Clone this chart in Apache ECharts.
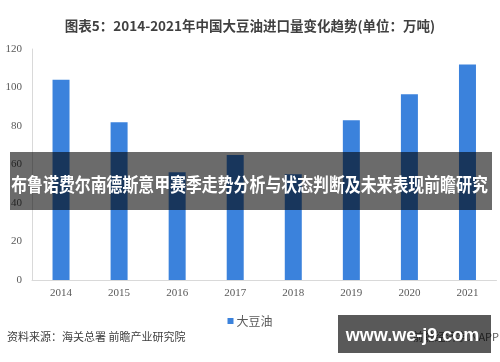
<!DOCTYPE html>
<html>
<head>
<meta charset="utf-8">
<script src="https://cdn.jsdelivr.net/npm/echarts@6/dist/echarts.min.js"></script>
<style>html,body{margin:0;padding:0;background:#fff}#c{width:500px;height:362px}</style>
</head>
<body>
<div id="c"></div>
<script>
var categories = ['2014','2015','2016','2017','2018','2019','2020','2021'];
var soyOil = [104, 82, 56, 65, 55, 83, 96.5, 112];
var yTicks = {min: 0, max: 120, interval: 20};
var titleText = '图表5：2014-2021年中国大豆油进口量变化趋势(单位：万吨)';
var seriesName = '大豆油';
var sourceText = '资料来源：海关总署 前瞻产业研究院';
var bannerText = '布鲁诺费尔南德斯意甲赛季走势分析与状态判断及未来表现前瞻研究';
var markText = 'www.we-j9.com';
var appText = '前瞻经济学人APP';

var chart = echarts.init(document.getElementById('c'), null, {renderer: 'canvas'});
chart.setOption({
  animation: false,
  backgroundColor: '#fff',
  title: {
    text: titleText, left: 'center', top: 14,
    textStyle: {fontFamily: 'Noto Sans CJK SC', fontWeight: 'bold', fontSize: 13.5, color: '#404040'}
  },
  grid: {left: 32, right: 3.5, top: 49, bottom: 82},
  legend: {
    data: [seriesName], left: 'center', top: 310, itemWidth: 6, itemHeight: 6, itemGap: 4,
    icon: 'rect',
    textStyle: {fontFamily: 'Noto Sans CJK SC', fontSize: 12, color: '#595959', padding: [0,0,0,-2]}
  },
  xAxis: {
    type: 'category', data: categories,
    axisLine: {lineStyle: {color: '#d9d9d9'}},
    axisTick: {show: false},
    axisLabel: {margin: 8, fontFamily: 'Liberation Serif', fontSize: 11, color: '#595959'}
  },
  yAxis: {
    type: 'value', min: yTicks.min, max: yTicks.max, interval: yTicks.interval,
    axisLine: {show: true, lineStyle: {color: '#d9d9d9'}},
    axisTick: {show: false},
    splitLine: {show: false},
    axisLabel: {margin: 10, fontFamily: 'Liberation Serif', fontSize: 11, color: '#595959'}
  },
  series: [{
    name: seriesName, type: 'bar', data: soyOil, barWidth: 17,
    itemStyle: {color: '#3b82dc'}
  }],
  graphic: [
    {type: 'text', left: 7, top: 331, z: 10,
      style: {text: sourceText, fontFamily: 'Noto Sans CJK SC', fontSize: 11, fill: '#404040'}},
    {type: 'text', right: 1, top: 331, z: 10,
      style: {text: appText, fontFamily: 'Noto Sans CJK SC', fontSize: 11, fill: '#595959'}},
    {type: 'rect', shape: {x: 10, y: 152, width: 482, height: 58}, z: 100,
      style: {fill: 'rgba(0,0,0,0.58)'}},
    {type: 'text', x: 249.5, y: 185, scaleX: 0.836, z: 101,
      style: {text: bannerText, x: 0, y: 0, align: 'center', verticalAlign: 'middle',
        fontFamily: 'Noto Sans CJK SC', fontWeight: 'bold', fontSize: 19, fill: '#fff'}},
    {type: 'rect', shape: {x: 338, y: 315, width: 153, height: 38}, z: 100,
      style: {fill: 'rgba(0,0,0,0.65)'}},
    {type: 'text', x: 412.5, y: 336, z: 101,
      style: {text: markText, x: 0, y: 0, align: 'center', verticalAlign: 'middle',
        fontFamily: 'Liberation Sans', fontWeight: 'bold', fontSize: 18, fill: '#fff'}}
  ]
});
</script>
</body>
</html>
